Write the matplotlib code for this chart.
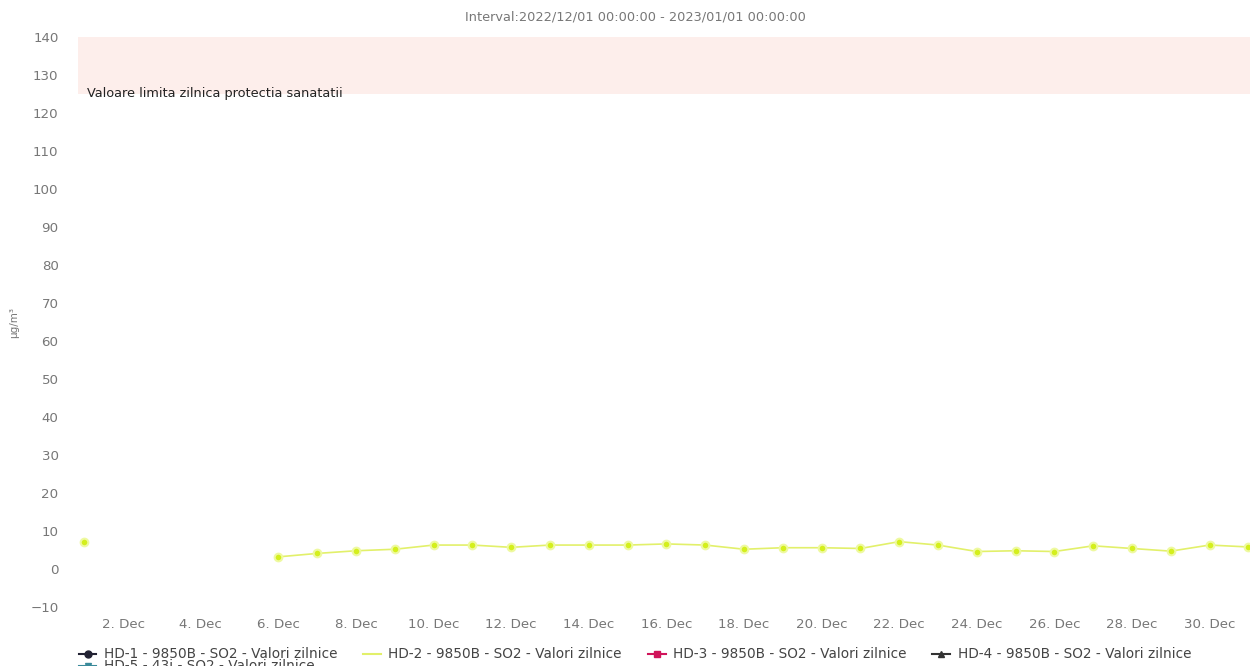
import numpy as np
import pandas as pd
import matplotlib.pyplot as plt
import matplotlib.dates as mdates
from matplotlib.lines import Line2D

# daily SO2 values, HD-2 (other stations have no data)
days = pd.date_range('2022-12-01', '2022-12-31', freq='D')
hd2 = [7.2, np.nan, np.nan, np.nan, np.nan, 3.2, 4.1, 4.8, 5.2, 6.3,
       6.3, 5.7, 6.3, 6.3, 6.3, 6.6, 6.3, 5.2, 5.6, 5.6,
       5.4, 7.2, 6.3, 4.6, 4.8, 4.6, 6.1, 5.4, 4.7, 6.3, 5.8]

limit_lo, limit_hi = 125, 140
y_ticks = list(range(-10, 141, 10))
legend_labels = ['HD-1 - 9850B - SO2 - Valori zilnice',
                 'HD-2 - 9850B - SO2 - Valori zilnice',
                 'HD-3 - 9850B - SO2 - Valori zilnice',
                 'HD-4 - 9850B - SO2 - Valori zilnice',
                 'HD-5 - 43i - SO2 - Valori zilnice']

plt.rcParams['font.family'] = ['DejaVu Sans']
txt = '#777777'

fig = plt.figure(figsize=(12.5, 6.66), dpi=100)
ax = fig.add_axes([78 / 1250, 1 - 607 / 666, 1 - 78 / 1250, 570 / 666])

ax.axhspan(limit_lo, limit_hi, color='#fdeeeb', lw=0, zorder=0)
ax.text(0.008, 123.3, 'Valoare limita zilnica protectia sanatatii',
        transform=ax.get_yaxis_transform(), fontsize=9.3, color='#222222',
        va='bottom', ha='left')

ax.plot(days, hd2, color='#e2f06a', lw=1.2, marker='o', ms=5.5,
        mfc='#d4ef1c', mec='#eef9a0', mew=1.5, zorder=3)

ax.set_ylim(-10, 140)
ax.set_yticks(y_ticks)
ax.set_xlim(days[0] - pd.Timedelta(hours=4), days[-1] + pd.Timedelta(hours=1))
ax.xaxis.set_major_locator(mdates.DayLocator(bymonthday=range(2, 31, 2)))
ax.xaxis.set_major_formatter(plt.FuncFormatter(
    lambda v, p: '%d. Dec' % mdates.num2date(v).day))
ax.tick_params(axis='both', length=0, labelsize=9.6, labelcolor=txt)
ax.tick_params(axis='y', pad=14)
ax.tick_params(axis='x', pad=8)
for s in ax.spines.values():
    s.set_visible(False)

ax.set_ylabel('µg/m³', fontsize=7.5, color=txt)
ax.yaxis.set_label_coords(-0.050, 0.5)
fig.text(0.508, 0.974, 'Interval:2022/12/01 00:00:00 - 2023/01/01 00:00:00',
         ha='center', va='center', fontsize=9.3, color=txt)

# legend entries, reordered so rows fill left to right
handles = [
    Line2D([], [], color='#222233', marker='o', ms=5, lw=1.5),
    Line2D([], [], color='#e2f06a', lw=1.5),
    Line2D([], [], color='#d0145a', marker='s', ms=4.5, lw=1.5),
    Line2D([], [], color='#333333', marker='^', ms=5, lw=1.5),
    Line2D([], [], color='#3a8a9a', marker='v', ms=5, lw=1.5),
]
order = [0, 4, 1, 2, 3]
fig.legend([handles[i] for i in order], [legend_labels[i] for i in order],
           loc='upper left', bbox_to_anchor=(0.063, 0.028),
           ncol=4, frameon=False, fontsize=9.8, labelcolor='#444444',
           handlelength=1.3, handletextpad=0.55, columnspacing=1.9,
           labelspacing=-0.15, borderaxespad=0, borderpad=0)

plt.savefig('out.png', dpi=100)
